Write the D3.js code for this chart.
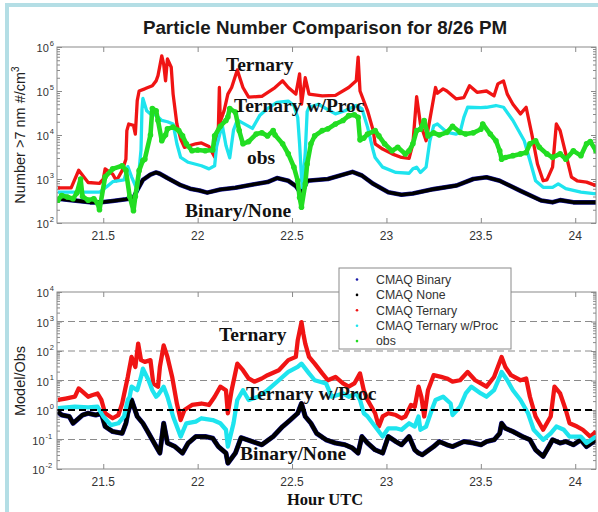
<!DOCTYPE html>
<html><head><meta charset="utf-8">
<script src="https://cdn.jsdelivr.net/npm/d3@7"></script>
<style>body{margin:0;background:#fff}svg{display:block}</style>
</head><body><svg id="c" width="598" height="512"></svg>
<script>
// ---------- DATA ----------
const titleText = "Particle Number Comparison for 8/26 PM";
const xDomain = [21.255, 24.11];
const xTicks = [21.5, 22, 22.5, 23, 23.5, 24];
const topDecades = [2, 3, 4, 5, 6];
const botDecades = [-2, -1, 0, 1, 2, 3, 4];
const legendNames = ["CMAQ Binary", "CMAQ None", "CMAQ Ternary", "CMAQ Ternary w/Proc", "obs"];

// top panel: particle number (#/cm3) vs hour UTC
const binaryNoneTop = [[21.26,355],[21.33,331],[21.43,295],[21.49,295],[21.55,316],[21.62,347],[21.66,372],[21.68,562],[21.71,955],[21.75,1260],[21.78,1410],[21.80,1320],[21.84,1050],[21.91,724],[21.96,603],[22.01,550],[22.05,490],[22.12,575],[22.20,631],[22.30,759],[22.37,851],[22.42,1050],[22.48,912],[22.52,692],[22.55,450],[22.58,912],[22.69,1000],[22.82,1450],[22.87,1200],[22.93,776],[23.01,501],[23.08,437],[23.14,468],[23.25,589],[23.37,708],[23.46,1000],[23.53,1100],[23.60,912],[23.71,537],[23.82,324],[23.88,295],[23.92,331],[23.99,295],[24.11,295]];
const ternaryTop = [[21.26,631],[21.33,631],[21.37,1580],[21.42,832],[21.48,794],[21.50,1000],[21.51,1700],[21.55,1290],[21.57,912],[21.60,1550],[21.62,2820],[21.625,12600],[21.635,17800],[21.66,16600],[21.67,10500],[21.68,60300],[21.69,100000],[21.72,112000],[21.76,132000],[21.78,170000],[21.79,224000],[21.81,631000],[21.82,407000],[21.83,170000],[21.84,537000],[21.86,347000],[21.87,85100],[21.89,17800],[21.91,8130],[21.93,5250],[21.99,6310],[22.02,6610],[22.06,5500],[22.09,3160],[22.11,15800],[22.115,120000],[22.12,20000],[22.14,35500],[22.16,85100],[22.18,120000],[22.21,302000],[22.24,120000],[22.27,72400],[22.34,75900],[22.41,120000],[22.45,170000],[22.48,120000],[22.52,85100],[22.54,245000],[22.55,50100],[22.57,200000],[22.59,85100],[22.66,77600],[22.73,79400],[22.80,120000],[22.84,170000],[22.85,589000],[22.86,100000],[22.90,35500],[22.93,12600],[22.94,6310],[22.98,4790],[23.03,3720],[23.08,3090],[23.12,2950],[23.14,6310],[23.16,74100],[23.18,17800],[23.21,7410],[23.26,120000],[23.27,89100],[23.30,112000],[23.32,100000],[23.37,66100],[23.41,70800],[23.44,132000],[23.48,93300],[23.53,100000],[23.57,77600],[23.59,145000],[23.62,170000],[23.64,85100],[23.67,50100],[23.71,30200],[23.74,42700],[23.77,10500],[23.80,2190],[23.83,912],[23.85,955],[23.88,1860],[23.90,17800],[23.92,12600],[23.95,3720],[23.98,1100],[24.01,912],[24.06,851],[24.11,708]];
const procTop = [[21.26,501],[21.48,501],[21.52,676],[21.55,871],[21.61,955],[21.63,1910],[21.65,1120],[21.68,562],[21.70,4570],[21.705,37200],[21.71,67600],[21.73,35500],[21.75,30200],[21.78,28200],[21.81,21400],[21.84,20000],[21.87,17800],[21.89,6310],[21.91,3090],[21.95,2400],[22.02,2000],[22.06,1700],[22.09,2000],[22.10,5370],[22.13,17000],[22.15,5750],[22.17,3020],[22.19,12900],[22.21,21900],[22.24,18600],[22.29,14100],[22.33,28200],[22.37,39800],[22.42,55000],[22.48,58900],[22.51,46800],[22.53,25100],[22.54,6310],[22.55,1100],[22.555,646],[22.57,3980],[22.58,33900],[22.59,42700],[22.64,50100],[22.68,39800],[22.73,30200],[22.78,35500],[22.84,46800],[22.87,39800],[22.90,15100],[22.93,4370],[22.94,3090],[22.98,1860],[23.05,1410],[23.12,1350],[23.14,1700],[23.16,1860],[23.18,1410],[23.21,1860],[23.23,7410],[23.25,16200],[23.27,17800],[23.32,11500],[23.37,10500],[23.39,11500],[23.41,25100],[23.43,42700],[23.50,41700],[23.53,42700],[23.58,46800],[23.62,42700],[23.67,21400],[23.73,7410],[23.76,2630],[23.79,912],[23.83,646],[23.88,646],[23.91,776],[23.95,603],[24.03,501],[24.11,457]];
const obsTop = [[21.26,331],[21.28,420],[21.31,389],[21.34,355],[21.36,479],[21.38,1000],[21.39,400],[21.42,331],[21.45,355],[21.47,282],[21.48,200],[21.51,1120],[21.55,1700],[21.60,2000],[21.62,1580],[21.64,400],[21.66,191],[21.67,400],[21.69,1550],[21.71,2630],[21.72,2820],[21.75,10000],[21.76,39800],[21.78,35500],[21.79,21400],[21.81,7410],[21.83,10000],[21.84,13800],[21.87,15100],[21.90,12600],[21.92,9550],[21.94,6310],[21.97,4370],[22.00,4570],[22.04,4370],[22.08,4570],[22.09,9550],[22.12,15800],[22.15,21400],[22.16,25700],[22.17,39800],[22.20,33100],[22.22,12600],[22.24,6310],[22.27,7080],[22.31,10500],[22.34,11200],[22.37,9550],[22.40,12600],[22.41,10000],[22.45,6310],[22.48,3720],[22.51,1860],[22.53,912],[22.54,380],[22.55,229],[22.57,776],[22.58,2190],[22.60,6310],[22.62,9550],[22.66,12600],[22.69,13800],[22.73,17800],[22.77,21400],[22.80,27500],[22.83,28800],[22.85,25100],[22.86,7760],[22.88,8510],[22.90,10500],[22.94,12600],[22.96,9550],[22.99,6310],[23.03,4370],[23.06,5250],[23.10,3720],[23.12,4370],[23.14,6310],[23.16,12600],[23.18,13500],[23.20,21400],[23.22,9550],[23.25,11200],[23.28,10000],[23.32,11500],[23.35,15800],[23.39,11500],[23.42,10500],[23.46,11200],[23.50,13500],[23.51,17800],[23.55,10500],[23.58,7410],[23.60,4370],[23.61,2820],[23.63,3090],[23.67,3390],[23.71,3720],[23.74,3980],[23.76,6310],[23.79,7410],[23.81,5250],[23.85,3720],[23.88,3090],[23.92,3720],[23.95,2820],[23.99,4370],[24.03,3390],[24.06,6310],[24.08,7080],[24.11,4370]];

// bottom panel: model / obs ratio
const binaryNoneRatio = [[21.26,0.871],[21.28,0.676],[21.32,0.603],[21.34,0.355],[21.39,0.676],[21.42,0.776],[21.46,0.676],[21.49,0.776],[21.51,0.275],[21.55,0.186],[21.60,0.162],[21.62,0.355],[21.63,0.776],[21.65,2.19],[21.68,0.603],[21.71,0.355],[21.73,0.214],[21.76,0.0977],[21.79,0.0447],[21.80,0.0347],[21.82,0.355],[21.84,0.0759],[21.88,0.0575],[21.92,0.0347],[21.95,0.0759],[21.99,0.126],[22.04,0.126],[22.08,0.110],[22.11,0.0575],[22.15,0.0347],[22.16,0.0158],[22.20,0.0347],[22.23,0.115],[22.29,0.0851],[22.34,0.0661],[22.40,0.126],[22.45,0.275],[22.49,0.457],[22.53,0.776],[22.55,1.66],[22.57,0.603],[22.60,0.355],[22.63,0.162],[22.68,0.0977],[22.73,0.0759],[22.78,0.0661],[22.82,0.0513],[22.85,0.0347],[22.87,0.126],[22.90,0.0759],[22.94,0.0447],[22.98,0.0347],[23.01,0.126],[23.05,0.0851],[23.08,0.0661],[23.12,0.126],[23.15,0.0447],[23.17,0.0347],[23.19,0.0302],[23.25,0.0575],[23.28,0.0851],[23.32,0.0661],[23.35,0.0575],[23.41,0.0851],[23.46,0.0759],[23.50,0.0661],[23.53,0.0851],[23.57,0.0977],[23.60,0.162],[23.61,0.355],[23.63,0.240],[23.67,0.186],[23.72,0.126],[23.76,0.0977],[23.79,0.0447],[23.83,0.0269],[23.86,0.0575],[23.88,0.0977],[23.92,0.0759],[23.95,0.0851],[23.99,0.0661],[24.03,0.0977],[24.06,0.0575],[24.11,0.0977]];
const ternaryRatio = [[21.26,2.19],[21.30,2.45],[21.35,2.82],[21.37,5.37],[21.39,4.17],[21.42,2.82],[21.44,3.16],[21.47,3.63],[21.49,2.19],[21.51,0.776],[21.55,0.525],[21.58,0.676],[21.60,1.66],[21.63,13.2],[21.65,63.1],[21.67,28.8],[21.685,178],[21.70,49],[21.72,42.7],[21.75,49],[21.765,7.94],[21.79,6.17],[21.80,28.8],[21.82,155],[21.84,63.1],[21.865,13.2],[21.89,1.66],[21.91,0.457],[21.93,1],[21.97,1.48],[22.02,1.66],[22.06,1.48],[22.09,2.82],[22.12,6.17],[22.15,4.68],[22.16,0.776],[22.18,4.68],[22.21,37.2],[22.24,22.4],[22.27,11.7],[22.30,9.12],[22.34,11.7],[22.37,15.1],[22.43,22.4],[22.48,49],[22.52,63.1],[22.53,229],[22.55,955],[22.56,380],[22.57,178],[22.59,63.1],[22.62,37.2],[22.66,17.4],[22.69,10.2],[22.73,13.2],[22.77,7.94],[22.80,6.17],[22.83,7.94],[22.86,17.4],[22.88,4.68],[22.90,2.19],[22.94,0.776],[22.96,0.275],[22.98,0.603],[23.01,0.776],[23.05,0.676],[23.08,0.525],[23.10,0.603],[23.13,1.48],[23.15,1.29],[23.17,6.17],[23.185,2.82],[23.20,0.603],[23.22,4.68],[23.25,15.1],[23.29,13.2],[23.32,11.7],[23.35,9.12],[23.39,10.2],[23.43,19.5],[23.47,10.2],[23.50,7.94],[23.53,6.17],[23.57,13.2],[23.59,28.8],[23.61,63.1],[23.63,28.8],[23.66,15.1],[23.71,10.2],[23.74,11.7],[23.76,2.82],[23.79,0.603],[23.83,0.214],[23.87,0.603],[23.89,6.17],[23.92,3.63],[23.95,1],[23.97,0.355],[24.01,0.275],[24.04,0.214],[24.08,0.126],[24.11,0.186]];
const procRatio = [[21.26,1.15],[21.35,1.29],[21.42,1.23],[21.47,1.29],[21.50,0.603],[21.54,0.309],[21.58,0.355],[21.61,0.603],[21.63,2.19],[21.64,2.82],[21.65,6.17],[21.68,4.68],[21.70,13.2],[21.71,25.1],[21.74,10.2],[21.76,4.68],[21.78,2.82],[21.79,3.24],[21.82,6.17],[21.84,2.82],[21.87,0.603],[21.91,0.126],[21.94,0.355],[21.99,0.407],[22.02,0.525],[22.08,0.457],[22.12,0.355],[22.15,0.214],[22.16,0.0575],[22.19,0.355],[22.21,2.19],[22.24,4.68],[22.27,2.19],[22.32,2.82],[22.37,4.68],[22.43,10.2],[22.48,19.5],[22.53,28.8],[22.55,37.2],[22.59,17.4],[22.62,10.2],[22.68,7.94],[22.71,2.82],[22.77,3.63],[22.80,2.82],[22.84,3.63],[22.86,2.19],[22.88,0.776],[22.90,0.603],[22.94,0.275],[22.98,0.126],[23.01,0.240],[23.05,0.240],[23.08,0.214],[23.12,0.355],[23.15,0.275],[23.17,0.603],[23.18,0.214],[23.21,0.275],[23.24,1],[23.26,2.19],[23.30,2.82],[23.34,1.66],[23.35,0.676],[23.39,1.29],[23.42,3.63],[23.45,6.17],[23.50,3.63],[23.53,2.82],[23.57,4.68],[23.60,13.2],[23.61,19.5],[23.64,10.2],[23.67,4.68],[23.71,2.19],[23.75,0.776],[23.78,0.214],[23.83,0.0977],[23.87,0.162],[23.90,0.275],[23.94,0.214],[23.97,0.126],[24.03,0.126],[24.06,0.0759],[24.11,0.126]];
const ratioGuides = [1e3, 1e2, 1e1, 1e-1];

// ---------- DRAWING ----------
const C = {binary:"#1a1aa8", none:"#000000", ternary:"#f01414", proc:"#1ee4ee", obs:"#22dd22"};
const svg = d3.select("#c");
svg.append("rect").attr("width",598).attr("height",512).attr("fill","#fff");
svg.append("path").attr("d","M7,514 V5 H600").attr("fill","none").attr("stroke","#b4dee5").attr("stroke-width",4);

const L = 57, R = 596;
const x = d3.scaleLinear().domain(xDomain).range([L, R]);
const yTop = d3.scaleLog().domain([1e2, 1e6]).range([223, 47]);
const yBot = d3.scaleLog().domain([1e-2, 1e4]).range([469, 292]);
const SANS = "'Liberation Sans', Arial, sans-serif";
const SERIF = "'Liberation Serif', 'Times New Roman', serif";

function panel(y, decades, clipId) {
  const [b, t] = y.range();
  const g = svg.append("g");
  svg.append("clipPath").attr("id", clipId).append("rect")
    .attr("x", L).attr("y", t).attr("width", R - L).attr("height", b - t);
  const minors = [];
  decades.slice(0, -1).forEach(d => { for (let k = 2; k <= 9; k++) minors.push(k * Math.pow(10, d)); });
  const majors = decades.map(d => Math.pow(10, d));
  const style = s => s.call(a => a.select(".domain").remove())
    .call(a => a.selectAll("line").attr("stroke", "#8a8a8a"))
    .call(a => a.selectAll("text").remove());
  g.append("g").attr("transform", `translate(${L},0)`).call(d3.axisLeft(y).tickValues(majors).tickSize(-5)).call(style);
  g.append("g").attr("transform", `translate(${L},0)`).call(d3.axisLeft(y).tickValues(minors).tickSize(-3)).call(style);
  g.append("g").attr("transform", `translate(${R},0)`).call(d3.axisRight(y).tickValues(majors).tickSize(-5)).call(style);
  g.append("g").attr("transform", `translate(${R},0)`).call(d3.axisRight(y).tickValues(minors).tickSize(-3)).call(style);
  g.append("g").attr("transform", `translate(0,${b})`).call(d3.axisBottom(x).tickValues(xTicks).tickSize(-5)).call(style);
  g.append("g").attr("transform", `translate(0,${t})`).call(d3.axisTop(x).tickValues(xTicks).tickSize(-5)).call(style);
  g.selectAll(null).data(xTicks).join("text")
    .attr("x", d => x(d)).attr("y", b + 17).attr("text-anchor", "middle")
    .attr("font-family", SANS).attr("font-size", 12).attr("fill", "#333").text(d => d);
  decades.forEach(d => {
    const ty = y(Math.pow(10, d));
    const e = String(d);
    const ex = 54 - e.length * 4.2;
    g.append("text").attr("x", ex - 1).attr("y", ty + 5).attr("text-anchor", "end")
      .attr("font-family", SANS).attr("font-size", 11).attr("fill", "#333").text("10");
    g.append("text").attr("x", ex).attr("y", ty - 1).attr("font-family", SANS).attr("font-size", 7.5)
      .attr("fill", "#333").text(e);
  });
  return g;
}

const gTop = panel(yTop, topDecades, "clipTop");
const gBot = panel(yBot, botDecades, "clipBot");

gBot.selectAll(null).data(ratioGuides).join("line")
  .attr("x1", L).attr("x2", R).attr("y1", d => yBot(d)).attr("y2", d => yBot(d))
  .attr("stroke", "#8c8c8c").attr("stroke-dasharray", "7,4").attr("stroke-width", 1);

function series(g, y, data, color, w, clip) {
  const line = d3.line().x(d => x(d[0])).y(d => y(d[1]));
  g.append("path").datum(data).attr("d", line).attr("fill", "none")
    .attr("stroke", color).attr("stroke-width", w).attr("stroke-linejoin", "round")
    .attr("clip-path", `url(#${clip})`);
}
function dots(g, y, data, color, r, clip) {
  g.append("g").attr("clip-path", `url(#${clip})`).selectAll(null).data(data).join("circle")
    .attr("cx", d => x(d[0])).attr("cy", d => y(d[1])).attr("r", r).attr("fill", color);
}

series(gTop, yTop, binaryNoneTop, C.binary, 4.6, "clipTop");
series(gTop, yTop, binaryNoneTop, C.none, 3.6, "clipTop");
series(gTop, yTop, ternaryTop, C.ternary, 3.3, "clipTop");
series(gTop, yTop, procTop, C.proc, 3.3, "clipTop");
series(gTop, yTop, obsTop, C.obs, 4.6, "clipTop");
dots(gTop, yTop, obsTop, C.obs, 2.8, "clipTop");

series(gBot, yBot, binaryNoneRatio, C.binary, 5, "clipBot");
series(gBot, yBot, binaryNoneRatio, C.none, 4.2, "clipBot");
series(gBot, yBot, ternaryRatio, C.ternary, 4.3, "clipBot");
series(gBot, yBot, procRatio, C.proc, 4.3, "clipBot");

gBot.append("line").attr("x1", L).attr("x2", R).attr("y1", yBot(1)).attr("y2", yBot(1))
  .attr("stroke", "#000").attr("stroke-dasharray", "7,4").attr("stroke-width", 2);

[yTop, yBot].forEach(y => {
  const [b, t] = y.range();
  svg.append("rect").attr("x", L).attr("y", t).attr("width", R - L).attr("height", b - t)
    .attr("fill", "none").attr("stroke", "#8a8a8a").attr("stroke-width", 1);
});

svg.append("text").attr("x", 325).attr("y", 34).attr("text-anchor", "middle")
  .attr("font-family", SANS).attr("font-weight", "bold").attr("font-size", 18.8).attr("fill", "#1a1a1a").text(titleText);
const yl1 = svg.append("text").attr("transform", "translate(25,135) rotate(-90)").attr("text-anchor", "middle")
  .attr("font-family", SANS).attr("font-size", 14.5).attr("fill", "#222");
yl1.append("tspan").text("Number >7 nm #/cm");
yl1.append("tspan").attr("dy", -6).attr("font-size", 10).text("3");
svg.append("text").attr("transform", "translate(25,381) rotate(-90)").attr("text-anchor", "middle")
  .attr("font-family", SANS).attr("font-size", 14.5).attr("fill", "#222").text("Model/Obs");
svg.append("text").attr("x", 325).attr("y", 505).attr("text-anchor", "middle")
  .attr("font-family", SERIF).attr("font-weight", "bold").attr("font-size", 16.5).attr("fill", "#111").text("Hour UTC");

const notes = [
  ["Ternary", 226, 71], ["Ternary w/Proc", 234, 112], ["obs", 247, 164], ["Binary/None", 185, 217],
  ["Ternary", 219, 341], ["Ternary w/Proc", 246, 400], ["Binary/None", 240, 460]
];
svg.selectAll(null).data(notes).join("text")
  .attr("x", d => d[1]).attr("y", d => d[2])
  .attr("font-family", SERIF).attr("font-weight", "bold").attr("font-size", 19.5).attr("fill", "#111")
  .text(d => d[0]);

const lg = svg.append("g");
lg.append("rect").attr("x", 339).attr("y", 268).attr("width", 172).attr("height", 81)
  .attr("fill", "#fff").attr("stroke", "#8a8a8a");
const legColors = [C.binary, C.none, C.ternary, C.proc, C.obs];
legendNames.forEach((n, i) => {
  const cy = 279.5 + i * 15.4;
  lg.append("circle").attr("cx", 357).attr("cy", cy).attr("r", 1.3).attr("fill", legColors[i]);
  lg.append("text").attr("x", 376).attr("y", cy + 4.3).attr("font-family", SANS).attr("font-size", 12.3)
    .attr("fill", "#333").text(n);
});
</script></body></html>
